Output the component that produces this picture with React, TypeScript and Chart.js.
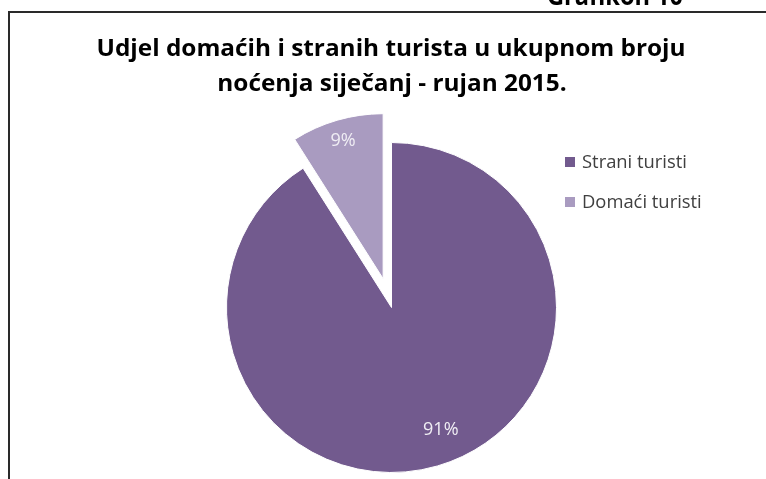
import React, { useEffect, useRef } from 'react';
import { Chart, registerables } from 'chart.js';

Chart.register(...registerables);

const categories = ['Strani turisti', 'Domaći turisti'];
const shares = [91, 9];
const sliceColors = ['#725a8e', '#a99bc0'];
const explode = [0, 30];
const titleLines = ['Udjel domaćih i stranih turista u ukupnom broju', 'noćenja siječanj - rujan 2015.'];
const captionText = 'Grafikon 10';

const FONT = '"Open Sans", "DejaVu Sans", sans-serif';

function fitSize(ctx: CanvasRenderingContext2D, text: string, weight: string, target: number) {
  ctx.font = `${weight} 20px ${FONT}`;
  const w = ctx.measureText(text).width;
  return (20 * target) / w;
}

// draws text at a given font size, horizontally squeezed by sx
function squeezedText(ctx: CanvasRenderingContext2D, text: string, x: number, y: number, sx: number) {
  ctx.save();
  ctx.translate(x, y);
  ctx.scale(sx, 1);
  ctx.fillText(text, 0, 0);
  ctx.restore();
}

const explodePlugin = {
  id: 'explode',
  beforeDatasetsDraw(chart: any) {
    const ctx: CanvasRenderingContext2D = chart.ctx;
    const meta = chart.getDatasetMeta(0);
    meta.data.forEach((arc: any, i: number) => {
      const mid = (arc.startAngle + arc.endAngle) / 2;
      ctx.save();
      ctx.translate(Math.cos(mid) * explode[i], Math.sin(mid) * explode[i]);
      arc.draw(ctx, chart.chartArea);
      ctx.restore();
    });
    return false;
  },
};

const decorPlugin = {
  id: 'decor',
  afterDraw(chart: any) {
    const ctx: CanvasRenderingContext2D = chart.ctx;
    ctx.save();
    // frame
    ctx.fillStyle = '#2a2a2a';
    ctx.fillRect(8, 11, 2, 700);
    ctx.fillRect(8, 11, 900, 2);

    ctx.fillStyle = '#000000';
    ctx.textBaseline = 'alphabetic';

    // caption (cut off at top)
    ctx.font = `bold 26px ${FONT}`;
    ctx.textAlign = 'left';
    const capW = ctx.measureText(captionText).width;
    squeezedText(ctx, captionText, 547, 5, 136 / capW);

    // title
    ctx.font = `bold 23.5px ${FONT}`;
    ctx.textAlign = 'center';
    const tW = ctx.measureText(titleLines[0]).width;
    const sx = 589 / tW;
    squeezedText(ctx, titleLines[0], 391, 56, sx);
    squeezedText(ctx, titleLines[1], 392, 91, sx);

    // legend
    const lSize = fitSize(ctx, categories[0], 'normal', 105);
    ctx.font = `normal ${lSize}px ${FONT}`;
    ctx.textAlign = 'left';
    categories.forEach((c, i) => {
      const y = 157 + i * 40;
      ctx.fillStyle = sliceColors[i];
      ctx.fillRect(565, y, 10, 10);
      ctx.fillStyle = '#404040';
      ctx.fillText(c, 582, y + 11);
    });

    // data labels
    const meta = chart.getDatasetMeta(0);
    const total = shares.reduce((a, b) => a + b, 0);
    const factors = [0.8, 0.87];
    const angleShift = [-0.1, 0];
    ctx.font = `normal 18px ${FONT}`;
    ctx.fillStyle = '#f0eef4';
    ctx.textAlign = 'center';
    ctx.textBaseline = 'middle';
    meta.data.forEach((arc: any, i: number) => {
      const mid = (arc.startAngle + arc.endAngle) / 2;
      const cx = arc.x + Math.cos(mid) * explode[i];
      const cy = arc.y + Math.sin(mid) * explode[i];
      const a = mid + angleShift[i];
      const r = arc.outerRadius * factors[i];
      ctx.fillText(Math.round((shares[i] / total) * 100) + '%', cx + Math.cos(a) * r, cy + Math.sin(a) * r);
    });
    ctx.restore();
  },
};

export default function App() {
  const ref = useRef<HTMLCanvasElement>(null);
  useEffect(() => {
    if (!ref.current) return;
    const chart = new Chart(ref.current, {
      type: 'pie',
      data: {
        labels: categories,
        datasets: [
          {
            data: shares,
            backgroundColor: sliceColors,
            borderColor: '#ffffff',
            borderWidth: 1,
            hoverBorderWidth: 1,
            offset: 0,
            hoverOffset: 0,
          },
        ],
      },
      options: {
        responsive: false,
        animation: false,
        devicePixelRatio: 1,
        layout: { padding: { top: 142, bottom: 27, left: 150, right: 133 } },
        plugins: {
          legend: { display: false },
          title: { display: false },
          tooltip: { enabled: false },
        },
        events: [],
      },
      plugins: [explodePlugin, decorPlugin],
    });
    return () => chart.destroy();
  }, []);
  return (
    <div style={{ position: 'fixed', left: 0, top: 0, width: 766, height: 479, overflow: 'hidden', background: '#fff' }}>
      <canvas ref={ref} width={766} height={500} style={{ display: 'block', width: 766, height: 500 }} />
    </div>
  );
}
